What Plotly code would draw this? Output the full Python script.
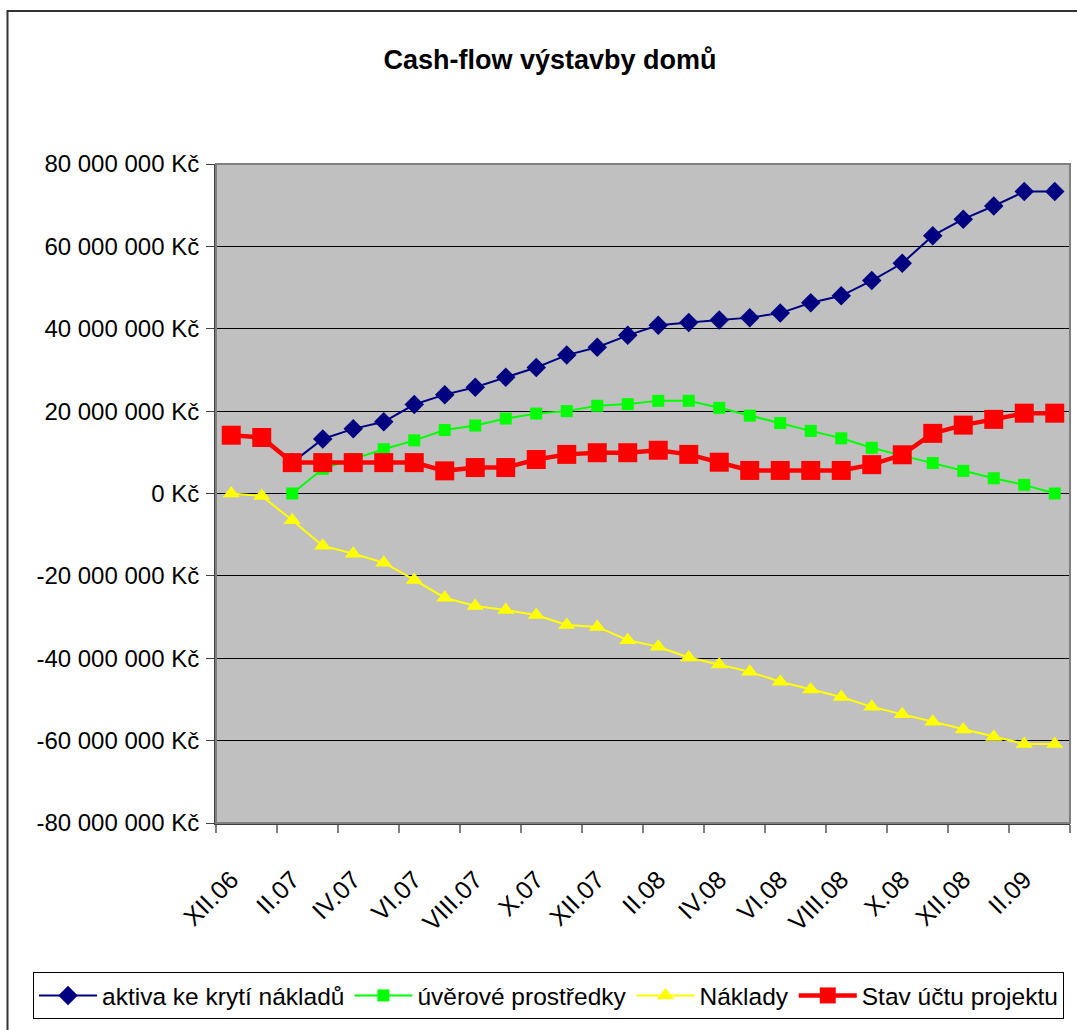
import plotly.graph_objects as go

months = ["XII.06", "I.07", "II.07", "III.07", "IV.07", "V.07", "VI.07", "VII.07",
          "VIII.07", "IX.07", "X.07", "XI.07", "XII.07", "I.08", "II.08", "III.08",
          "IV.08", "V.08", "VI.08", "VII.08", "VIII.08", "IX.08", "X.08", "XI.08",
          "XII.08", "I.09", "II.09", "III.09"]

aktiva = [None, None, 7.5, 13.25, 15.7, 17.4, 21.6, 24.0, 25.8, 28.2, 30.6, 33.6, 35.5, 38.4,
          40.85, 41.5, 42.1, 42.7, 43.8, 46.3, 48.0, 51.7, 55.9, 62.6, 66.6, 69.8, 73.3, 73.3]
uver = [None, None, 0.0, 6.0, 8.4, 10.75, 12.9, 15.4, 16.5, 18.2, 19.4, 20.0, 21.3, 21.7,
        22.5, 22.5, 20.8, 18.9, 17.1, 15.2, 13.4, 11.1, 9.2, 7.4, 5.5, 3.7, 2.1, 0.0]
naklady = [0.0, -0.6, -6.5, -12.7, -14.6, -16.8, -21.0, -25.3, -27.3, -28.3, -29.5, -31.9,
           -32.4, -35.6, -37.2, -39.8, -41.5, -43.3, -45.7, -47.6, -49.4, -51.8, -53.6,
           -55.4, -57.3, -59.1, -60.8, -60.8]
stav = [14.15, 13.6, 7.5, 7.5, 7.5, 7.5, 7.5, 5.5, 6.3, 6.3, 8.25, 9.5, 9.9, 9.9,
        10.5, 9.5, 7.6, 5.6, 5.6, 5.6, 5.6, 7.0, 9.4, 14.6, 16.6, 18.0, 19.5, 19.5]

y_ticks = [80, 60, 40, 20, 0, -20, -40, -60, -80]

MIL = 1_000_000
x = list(range(len(months)))


def scale(vals):
    return [None if v is None else v * MIL for v in vals]


def fmt_kc(v):
    n = int(round(v * MIL))
    s = f"{abs(n):,}".replace(",", " ")
    return ("-" if n < 0 else "") + s + " Kč"


FONT = "Liberation Sans, Arial, sans-serif"

fig = go.Figure()
fig.add_trace(go.Scatter(x=x, y=scale(aktiva), name="aktiva ke krytí nákladů",
                         mode="lines+markers", line=dict(color="#000080", width=2),
                         marker=dict(symbol="diamond", size=15, color="#000080")))
fig.add_trace(go.Scatter(x=x, y=scale(uver), name="úvěrové prostředky",
                         mode="lines+markers", line=dict(color="#00FF00", width=2),
                         marker=dict(symbol="square", size=12, color="#00FF00")))
fig.add_trace(go.Scatter(x=x, y=scale(naklady), name="Náklady",
                         mode="lines+markers", line=dict(color="#FFFF00", width=2),
                         marker=dict(symbol="triangle-up", size=15, color="#FFFF00")))
fig.add_trace(go.Scatter(x=x, y=scale(stav), name="Stav účtu projektu",
                         mode="lines+markers", line=dict(color="#FF0000", width=4.5),
                         marker=dict(symbol="square", size=19, color="#FF0000")))

L, R, T, B = 216, 7, 164, 207
W, H = 1077, 1030
pw, ph = W - L - R, H - T - B


def px_x(p):
    return (p - L) / pw


def px_y(p):
    return (H - B - p) / ph


n = len(months)
fig.update_layout(
    width=W, height=H,
    margin=dict(l=L, r=R, t=T, b=B, autoexpand=False),
    paper_bgcolor="white",
    plot_bgcolor="#C0C0C0",
    font=dict(family=FONT, size=24, color="black"),
    title=dict(text="<b>Cash-flow výstavby domů</b>", x=550 / W, xref="container",
               xanchor="center", y=1 - 60 / H, yref="container", yanchor="middle",
               font=dict(family=FONT, size=27, color="black")),
    showlegend=True,
    legend=dict(orientation="h", x=px_x(33), y=px_y(972), xanchor="left", yanchor="top",
                bgcolor="white", bordercolor="black", borderwidth=1,
                font=dict(family=FONT, size=24.5), itemwidth=58,
                tracegroupgap=0),
    shapes=[dict(type="rect", xref="paper", yref="paper",
                 x0=px_x(7.5), x1=px_x(1085), y0=px_y(1040), y1=px_y(11),
                 line=dict(color="#333333", width=2), fillcolor="rgba(0,0,0,0)",
                 layer="below")],
)

fig.update_xaxes(
    range=[-0.5, n - 0.5],
    tickmode="array", tickvals=x[::2], ticktext=months[::2],
    tickangle=-45, ticks="", showgrid=False, zeroline=False,
    showline=True, linecolor="#404040", linewidth=2, mirror=False,
    tickfont=dict(family=FONT, size=25),
    ticklabelstandoff=30,
    minor=dict(tickmode="array", tickvals=[i - 0.5 for i in range(0, n + 1, 2)],
               ticks="outside", ticklen=8, tickcolor="#808080", tickwidth=2, showgrid=False),
)
fig.update_yaxes(
    range=[y_ticks[-1] * MIL, y_ticks[0] * MIL],
    tickmode="array", tickvals=[v * MIL for v in y_ticks],
    ticktext=[fmt_kc(v) for v in y_ticks],
    ticks="outside", ticklen=8, tickcolor="#404040", tickwidth=1,
    showgrid=True, gridcolor="black", gridwidth=1, zeroline=False,
    showline=True, linecolor="#404040", linewidth=2,
    tickfont=dict(family=FONT, size=24),
    ticklabelstandoff=2,
)
# plot-area border (top & right)
fig.add_shape(type="rect", xref="paper", yref="paper", x0=0, x1=1, y0=0, y1=1,
              line=dict(color="#808080", width=2), fillcolor="rgba(0,0,0,0)", layer="above")

fig.write_html("out.html", config={"displayModeBar": False},
               post_script="document.body.style.margin='0';")
